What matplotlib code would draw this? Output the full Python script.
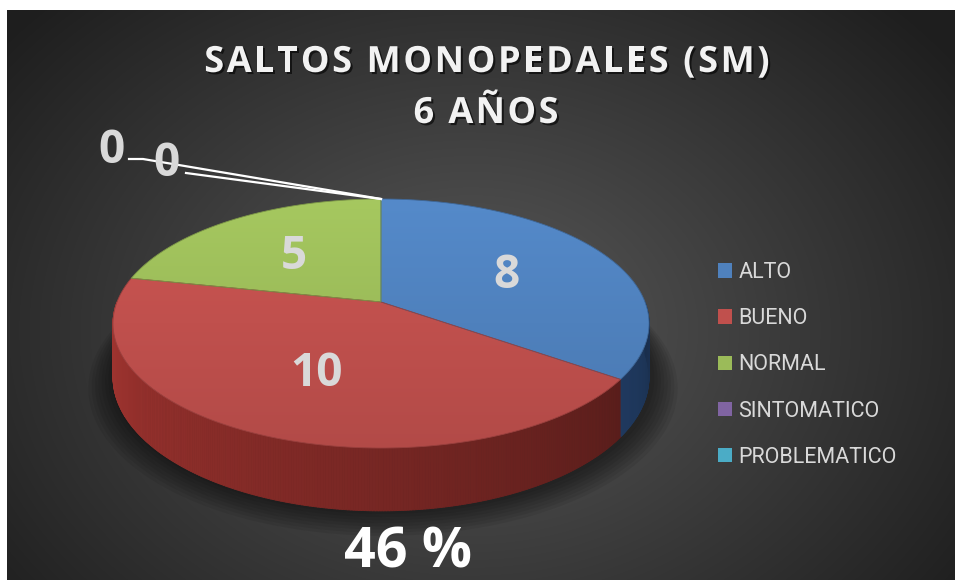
import numpy as np
import matplotlib
matplotlib.use("Agg")
import matplotlib.pyplot as plt
from matplotlib.patches import Polygon, Patch
from matplotlib.collections import PolyCollection
from matplotlib import patheffects as pe
from matplotlib import font_manager
from matplotlib.colors import to_rgb

# data
categories = ["ALTO", "BUENO", "NORMAL", "SINTOMATICO", "PROBLEMATICO"]
values = [8, 10, 5, 0, 0]
colors = ["#4f81bd", "#c0504d", "#9bbb59", "#8064a2", "#4bacc6"]
side_colors = ["#4279c8", "#bc3d38", "#8fb04c", "#8064a2", "#4bacc6"]
title_lines = ["SALTOS MONOPEDALES (SM)", "6 AÑOS"]
footer = "46 %"


def pick_font(names):
    for n in names:
        try:
            font_manager.findfont(font_manager.FontProperties(family=n), fallback_to_default=False)
            return n
        except ValueError:
            pass
    return "DejaVu Sans"


bold_font = pick_font(["Open Sans", "Lato", "DejaVu Sans"])
legend_font = pick_font(["Liberation Sans Narrow", "Roboto", "DejaVu Sans"])

# perspective pie geometry (pixels)
CX, CY = 381, 302
A, B, K = 264, 120.8, 0.1727
DEPTH = 52


def proj(u, v, z=0.0):
    d = 1 + K * v
    return CX + A * u / d, CY - B * v / d + DEPTH * z / d


fig = plt.figure(figsize=(9.55, 5.8), dpi=100, facecolor="white")
ax = fig.add_axes([0, 0, 1, 1])
ax.axis("off")
ax.set_xlim(0, 955)
ax.set_ylim(580, 0)

# background radial gradient
yy, xx = np.mgrid[10:580, 7:955]
r = np.sqrt(((xx - 470) / 520.0) ** 2 + ((yy - 330) / 400.0) ** 2)
g = np.clip(0.35 - 0.2 * r, 0.12, 1)
ax.imshow(np.dstack([g, g, g]), extent=(7, 955, 580, 10), origin="upper", zorder=0)

total = float(sum(values))
cum = 360.0 * np.concatenate([[0], np.cumsum(values)]) / total
edges = 90 - cum

# soft shadow under the pie
tt = np.radians(np.linspace(0, 360, 200))
for s in range(8, 0, -1):
    sc = 1 + 0.012 * s
    xs, ys = proj(np.cos(tt) * sc, np.sin(tt) * sc, 1.0)
    ax.add_patch(Polygon(np.column_stack([xs + 2, ys + s * 0.8]), closed=True,
                         facecolor="black", edgecolor="none", alpha=0.07, zorder=1))

# side wall
ts = np.arange(180, 360, 0.5)
quads, qcols = [], []
for t in ts:
    a = (90 - t - 0.25) % 360
    idx = min(np.searchsorted(cum, a, side="right") - 1, len(values) - 1)
    t1, t2 = np.radians(t), np.radians(t + 0.5)
    p1 = proj(np.cos(t1), np.sin(t1))
    p2 = proj(np.cos(t2), np.sin(t2))
    p3 = proj(np.cos(t2), np.sin(t2), 1.0)
    p4 = proj(np.cos(t1), np.sin(t1), 1.0)
    quads.append([p1, p2, p3, p4])
    shade = 0.88 - 0.5 * (t - 180) / 180.0
    qcols.append(tuple(np.clip(np.array(to_rgb(side_colors[idx])) * shade, 0, 1)))
ax.add_collection(PolyCollection(quads, facecolors=qcols, edgecolors=qcols,
                                 linewidths=0.6, zorder=2))

# top face wedges with gentle vertical gradient
ytop, ybot = proj(0, 1)[1], proj(0, -1)[1]
gy = np.linspace(1.07, 0.93, 120)[:, None]
for i, v in enumerate(values):
    if v == 0:
        continue
    t = np.radians(np.linspace(edges[i], edges[i + 1], 120))
    xs, ys = proj(np.cos(t), np.sin(t))
    pts = np.vstack([[proj(0, 0)], np.column_stack([xs, ys])])
    poly = Polygon(pts, closed=True, facecolor="none", edgecolor="none", zorder=3)
    ax.add_patch(poly)
    base = np.array(to_rgb(colors[i]))
    img = np.clip(gy[:, :, None] * base[None, None, :] * np.ones((1, 2, 1)), 0, 1)
    im = ax.imshow(img, extent=(CX - A - 20, CX + A + 20, ybot, ytop),
                   origin="upper", zorder=3, interpolation="bilinear")
    im.set_clip_path(poly)
    ax.add_patch(Polygon(pts, closed=True, facecolor="none",
                         edgecolor=tuple(base * 0.8), linewidth=0.6, zorder=4))

# value labels (baseline placed half a digit height below the centre point)
for i, v in enumerate(values):
    if v == 0:
        continue
    mid = np.radians((edges[i] + edges[i + 1]) / 2)
    lx, ly = proj(0.56 * np.cos(mid), 0.56 * np.sin(mid))
    ax.text(lx, ly + 16, str(v), color="#d9d9d9", fontsize=33, fontweight="bold",
            family=bold_font, ha="center", va="baseline", zorder=6)

# zero labels with leader lines
zero_idx = [i for i, v in enumerate(values) if v == 0]
zero_pos = [(111, 147), (166, 160)]
leader_start = [[(129, 159), (143, 159)], [(186, 173)]]
for k, i in enumerate(zero_idx):
    t = np.radians(edges[i])
    px, py = proj(np.cos(t), np.sin(t))
    path = leader_start[k] + [(px, py)]
    ax.plot([p[0] for p in path], [p[1] for p in path], color="white", lw=1.6, zorder=5)
    ax.text(zero_pos[k][0], zero_pos[k][1] + 16, str(values[i]), color="#d9d9d9",
            fontsize=33, fontweight="bold", family=bold_font,
            ha="center", va="baseline", zorder=6)

# title with letter spacing
shadow = [pe.SimplePatchShadow(offset=(1.5, -1.5), shadow_rgbFace="black", alpha=0.6), pe.Normal()]
renderer = fig.canvas.get_renderer()
tfp = font_manager.FontProperties(family=bold_font, weight="bold", size=26)


def spaced_text(xc, y, s, track):
    widths = [renderer.get_text_width_height_descent(ch, tfp, ismath=False)[0] for ch in s]
    x = xc - (sum(widths) + track * (len(s) - 1)) / 2.0
    for ch, w in zip(s, widths):
        ax.text(x, y, ch, color="#f2f2f2", fontproperties=tfp, ha="left",
                va="baseline", path_effects=shadow, zorder=6)
        x += w + track


spaced_text(487, 72, title_lines[0], 2.6)
spaced_text(486, 123, title_lines[1], 2.4)

# footer
ax.text(408, 567, footer, color="white", fontsize=40, fontweight="bold",
        family=bold_font, ha="center", va="baseline", zorder=6)

# legend
handles = [Patch(facecolor=c, edgecolor="none") for c in colors]
leg = ax.legend(handles, categories, loc="upper left",
                bbox_to_anchor=(718 / 955.0, 1 - 262 / 580.0), frameon=False,
                prop={"family": legend_font, "size": 15.5}, labelcolor="#d9d9d9",
                handlelength=0.65, handleheight=0.65, handletextpad=0.3,
                labelspacing=1.17, borderpad=0, borderaxespad=0)
leg.set_zorder(7)

ax.set_xlim(0, 955)
ax.set_ylim(580, 0)
ax.set_aspect("auto")
fig.savefig("out.png", dpi=100, facecolor="white")
